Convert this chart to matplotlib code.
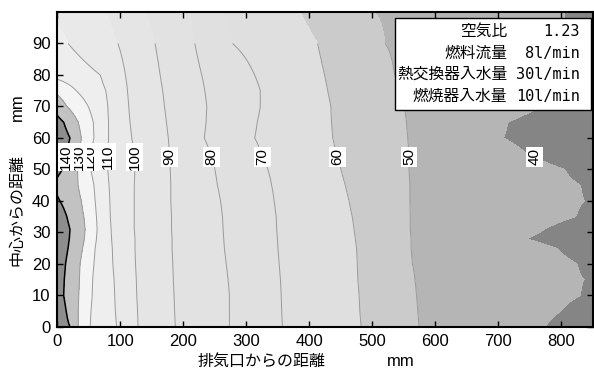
import matplotlib.pyplot as plt
import numpy as np
from matplotlib.patches import Rectangle

# heights (mm from centre) at which the isotherm positions were read
y_rows = [0, 5, 10, 15, 20, 25, 28, 31, 35, 40, 45, 50, 55, 60, 65, 70, 75, 80, 90, 100]

# temperature at the exhaust wall (x=0) and at the far end (x=850)
t_wall = [146, 146, 143, 144, 145, 146, 147, 147, 146, 141, 138, 142, 145, 147, 143, 136, 128, 117, 114, 107]
t_far = [36, 37, 38, 39, 38, 37, 36, 36, 38, 39, 39, 37, 35, 34, 34, 35, 36, 36, 36, 36]

nan = np.nan
# x position (mm from exhaust) of each isotherm for every row
x_140 = [20, 14, 10, 11, 13, 17, 19, 20, 15, 4, nan, 8, 15, 20, 10, nan, nan, nan, nan, nan]
x_130 = [33, 33, 34, 35, 36, 40, 43, 44, 42, 38, 33, 32, 35, 38, 33, 15, nan, nan, nan, nan]
x_120 = [52, 53, 55, 56, 58, 60, 62, 63, 62, 60, 58, 53, 52, 58, 57, 49, 30, nan, nan, nan]
x_110 = [94, 92, 91, 90, 88, 87, 86, 85, 84, 83, 82, 80, 80, 81, 81, 80, 77, 68, 17, nan]
x_100 = [128, 127, 126, 125, 124, 123, 123, 122, 122, 122, 122, 123, 122, 118, 115, 113, 111, 108, 96, 78]
x_90 = [187, 186, 185, 184, 183, 182, 182, 181, 181, 180, 180, 179, 178, 176, 173, 170, 167, 163, 155, 140]
x_80 = [273, 273, 273, 271, 268, 265, 264, 263, 262, 259, 254, 250, 243, 233, 236, 237, 234, 229, 218, 210]
x_70 = [357, 356, 355, 354, 352, 350, 349, 348, 347, 344, 340, 334, 323, 313, 317, 322, 322, 313, 278, 260]
x_60 = [482, 480, 479, 477, 476, 475, 473, 471, 468, 463, 457, 450, 443, 437, 435, 434, 429, 424, 413, 386]
x_50 = [574, 572, 570, 567, 563, 561, 561, 560, 560, 559, 559, 558, 558, 556, 554, 550, 543, 535, 520, 503]
x_40 = [773, 798, 830, 836, 825, 792, 745, 773, 823, 836, 830, 805, 745, 708, 715, 770, 785, 795, 805, 805]

levels = [40, 50, 60, 70, 80, 90, 100, 110, 120, 130, 140]
crossings = {40: x_40, 50: x_50, 60: x_60, 70: x_70, 80: x_80, 90: x_90,
             100: x_100, 110: x_110, 120: x_120, 130: x_130, 140: x_140}

band_colors = ['#858585', '#b5b5b5', '#cbcbcb', '#dfdfdf', '#e0e0e0', '#e2e2e2',
               '#e5e5e5', '#e9e9e9', '#eeeeee', '#f4f4f4', '#c2c2c2', '#8e8e8e']

legend_names = ['空気比', '燃料流量', '熱交換器入水量', '燃焼器入水量']
legend_values = ['1.23', '8l/min', '30l/min', '10l/min']

# grid table for the contour functions, built from the isotherm positions
x_grid = np.linspace(0, 850, 426)
temp = np.empty((len(y_rows), len(x_grid)))
for i in range(len(y_rows)):
    xp = [0.0]
    fp = [t_wall[i]]
    for lev in levels[::-1]:
        xc = crossings[lev][i]
        if not np.isnan(xc):
            xp.append(xc)
            fp.append(lev)
    xp.append(850.0)
    fp.append(t_far[i])
    temp[i] = np.interp(x_grid, xp, fp)

fig = plt.figure(figsize=(5.94, 3.72), dpi=100)
ax = fig.add_axes([0.0966, 0.121, 0.9017, 0.8468])

ax.contourf(x_grid, y_rows, temp, levels=[0] + levels + [300], colors=band_colors)

# the measured isotherm lines only reach 90 mm
n_line = y_rows.index(90) + 1
line_colors = ['#9a9a9a'] * 9 + ['black']
line_widths = [0.7] * 9 + [1.1]
ax.contour(x_grid, y_rows[:n_line], temp[:n_line], levels=levels[1:],
           colors=line_colors, linewidths=line_widths)

y_arr = np.array(y_rows, dtype=float)
for lev in levels:
    xs = np.array(crossings[lev], dtype=float)
    ok = ~np.isnan(xs)
    xl = np.interp(54, y_arr[ok], xs[ok])
    ax.text(xl, 54, str(lev), rotation=90, ha='center', va='center',
            fontsize=11, family='Liberation Sans',
            bbox=dict(fc='white', ec='none', pad=1.0))

ax.set_xlim(0, 850)
ax.set_ylim(0, 100)
ax.set_xticks(range(0, 900, 100))
ax.set_yticks(range(0, 100, 10))
ax.tick_params(direction='in', top=True, right=True, length=4, width=1,
               labelsize=12, pad=5)
for lbl in ax.get_xticklabels() + ax.get_yticklabels():
    lbl.set_family('Liberation Sans')
for sp in ax.spines.values():
    sp.set_linewidth(1.5)

# legend box with the test conditions
ax.add_patch(Rectangle((0.630, 0.689), 0.366, 0.292, transform=ax.transAxes,
                       fc='white', ec='black', lw=1.0, zorder=5))
for k, (name, val) in enumerate(zip(legend_names, legend_values)):
    yy = 0.937 - k * 0.068
    ax.text(0.840, yy, name, transform=ax.transAxes, ha='right', va='center',
            fontsize=11.3, family='Noto Sans CJK JP', zorder=6)
    ax.text(0.976, yy, val, transform=ax.transAxes, ha='right', va='center',
            fontsize=11, family='DejaVu Sans Mono', zorder=6)

fig.text(262 / 594, 1 - 361 / 372, '排気口からの距離', ha='center', va='center',
         fontsize=11.5, family='Noto Sans CJK JP')
fig.text(401 / 594, 1 - 362 / 372, 'mm', ha='center', va='center',
         fontsize=12, family='Liberation Sans')
fig.text(17 / 594, 1 - 210 / 372, '中心からの距離', ha='center', va='center',
         rotation=90, fontsize=11.5, family='Noto Sans CJK JP')
fig.text(17 / 594, 1 - 107 / 372, 'mm', ha='center', va='center',
         rotation=90, fontsize=12, family='Liberation Sans')

fig.savefig('out.png', dpi=100)
